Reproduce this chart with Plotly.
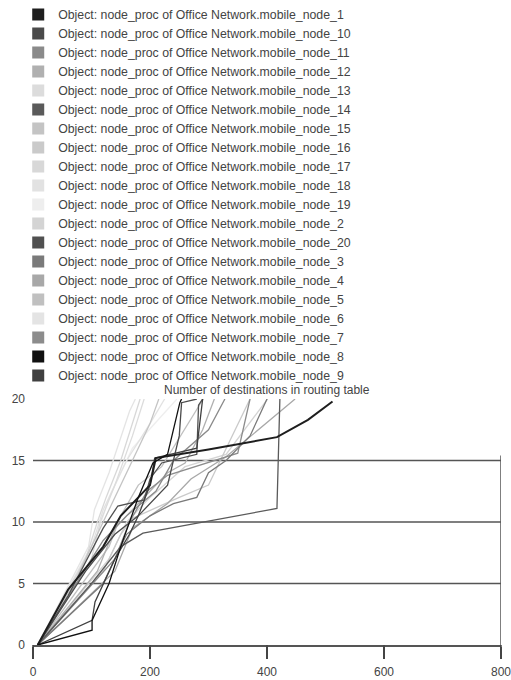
import plotly.graph_objects as go

# ---------------- data ----------------
legend_nodes = ["1", "10", "11", "12", "13", "14", "15", "16", "17", "18",
                "19", "2", "20", "3", "4", "5", "6", "7", "8", "9"]
legend_colors = ["#1e1e1e", "#4a4a4a", "#8a8a8a", "#b0b0b0", "#dcdcdc",
                 "#5a5a5a", "#c4c4c4", "#cacaca", "#d8d8d8", "#e2e2e2",
                 "#eeeeee", "#d4d4d4", "#505050", "#7a7a7a", "#a8a8a8",
                 "#c0c0c0", "#e4e4e4", "#8c8c8c", "#101010", "#404040"]

# time (s) and number of destinations in routing table for each node
t_1 = [8, 60, 120, 150, 200, 210, 300, 417, 470, 512]
v_1 = [0, 4.5, 8, 10.5, 13, 15.2, 15.9, 16.9, 18.3, 19.8]
t_10 = [8, 90, 140, 180, 230, 250, 254, 280]
v_10 = [0, 6, 9, 10.5, 13, 17, 19.7, 20]
t_11 = [8, 80, 120, 160, 210, 240, 300, 328]
v_11 = [0, 5.5, 8.5, 10.5, 12.5, 15, 17.5, 20]
t_12 = [8, 110, 140, 190, 230, 260, 290, 310]
v_12 = [0, 6, 9.5, 12, 14, 14.8, 17.5, 20]
t_13 = [8, 100, 115, 140, 170, 190]
v_13 = [0, 7, 10, 13, 17, 20]
t_14 = [8, 100, 150, 188, 417, 420, 422]
v_14 = [0, 5, 8, 9.1, 11.1, 17, 20]
t_15 = [8, 70, 110, 130, 160, 200, 215]
v_15 = [0, 5, 9, 11, 14, 18, 20]
t_16 = [8, 120, 150, 170, 250, 300, 371]
v_16 = [0, 6, 9, 10.3, 12, 13, 20]
t_17 = [8, 90, 110, 125, 150, 183]
v_17 = [0, 7, 10, 12, 15, 20]
t_18 = [8, 100, 120, 160, 200, 225]
v_18 = [0, 8, 11, 15, 18, 20]
t_19 = [8, 110, 130, 170, 246]
v_19 = [0, 9, 12, 16, 20]
t_2 = [8, 130, 160, 200, 260, 330, 401]
v_2 = [0, 7, 10, 12, 14.5, 15.5, 20]
t_20 = [8, 60, 120, 145, 190, 200, 220, 280, 283, 290]
v_20 = [0, 4, 9.5, 11.3, 11.8, 13.5, 14.8, 15.5, 19.5, 20]
t_3 = [8, 120, 160, 200, 240, 280, 300, 330, 371, 400]
v_3 = [0, 5, 9, 10.5, 11.5, 12, 14, 15, 17, 20]
t_4 = [8, 140, 170, 230, 270, 330, 448]
v_4 = [0, 6, 9.5, 11.5, 13.5, 15.3, 20]
t_5 = [8, 130, 150, 180, 220, 291]
v_5 = [0, 8, 10.5, 13, 14.5, 20]
t_6 = [8, 95, 105, 130, 165, 175]
v_6 = [0, 8, 11, 14, 19, 20]
t_7 = [8, 140, 165, 195, 230, 350, 371]
v_7 = [0, 7, 10, 12.5, 13.8, 15.6, 20]
t_8 = [8, 101, 101, 130, 150, 165, 180, 205, 230, 251, 254]
v_8 = [0, 1.2, 2.0, 5, 8, 10, 12, 14.8, 15.5, 19.7, 20]
t_9 = [8, 101, 106, 140, 165, 180, 200, 208, 280, 290]
v_9 = [0, 2.0, 3.5, 7, 9, 10.5, 13, 15.2, 16, 20]

series = {
    "1": (t_1, v_1), "10": (t_10, v_10), "11": (t_11, v_11), "12": (t_12, v_12),
    "13": (t_13, v_13), "14": (t_14, v_14), "15": (t_15, v_15), "16": (t_16, v_16),
    "17": (t_17, v_17), "18": (t_18, v_18), "19": (t_19, v_19), "2": (t_2, v_2),
    "20": (t_20, v_20), "3": (t_3, v_3), "4": (t_4, v_4), "5": (t_5, v_5),
    "6": (t_6, v_6), "7": (t_7, v_7), "8": (t_8, v_8), "9": (t_9, v_9),
}

x_ticks = [0, 200, 400, 600, 800]
y_ticks = [0, 5, 10, 15, 20]
grid_y = [5, 10, 15]
X_RANGE = [0, 800]
title_text = "Number of destinations in routing table"

FONT = "Liberation Sans, Arial, sans-serif"
fig = go.Figure()

# draw lighter lines first so darker ones sit on top
def lum(c):
    return int(c[1:3], 16)

order = sorted(range(len(legend_nodes)), key=lambda i: -lum(legend_colors[i]))
for i in order:
    node = legend_nodes[i]
    t, v = series[node]
    fig.add_trace(go.Scatter(
        x=t, y=v, mode="lines", showlegend=False,
        line=dict(color=legend_colors[i], width=2 if node == "1" else 1.3),
        legendgroup=node, hoverinfo="skip"))

# legend entries (square swatches)
for node, col in zip(legend_nodes, legend_colors):
    fig.add_trace(go.Scatter(
        x=[None], y=[None], mode="markers", legendgroup=node,
        name=f"Object: node_proc of Office Network.mobile_node_{node}",
        marker=dict(symbol="square", size=12, color=col,
                    line=dict(width=0))))

PLOT_H = 680 - 399 - 35
shapes = []
for g in grid_y:
    shapes.append(dict(type="line", xref="paper", yref="y", x0=0, x1=1,
                       y0=g, y1=g, line=dict(color="#555555", width=1.5),
                       layer="below"))
shapes.append(dict(type="line", xref="x", yref="y", x0=x_ticks[-1], x1=x_ticks[-1],
                   y0=0, y1=15.4, line=dict(color="#555555", width=1.5),
                   layer="below"))
# x-axis tick marks below the axis line (paper refs so they are not clipped)
for xt in x_ticks:
    fx = (xt - X_RANGE[0]) / (X_RANGE[1] - X_RANGE[0])
    shapes.append(dict(type="line", xref="paper", yref="paper", x0=fx, x1=fx,
                       y0=0, y1=-12 / PLOT_H, line=dict(color="#444444", width=1.5)))

fig.update_layout(
    width=511, height=680,
    margin=dict(l=33, r=10, t=399, b=35, autoexpand=False),
    paper_bgcolor="white", plot_bgcolor="white",
    font=dict(family=FONT, size=12, color="#333333"),
    showlegend=True,
    legend=dict(xref="container", yref="container", x=8 / 511 + 0.02,
                y=1 + 1 / 680,
                xanchor="left", yanchor="top", bgcolor="rgba(0,0,0,0)",
                font=dict(family=FONT, size=12.3, color="#444444"),
                itemclick=False, traceorder="normal", maxheight=400),
    xaxis=dict(range=X_RANGE, tickvals=x_ticks, ticks="outside", ticklen=12,
               tickwidth=1.5, tickcolor="#444444", showgrid=False,
               zeroline=False, showline=True, linecolor="#555555", linewidth=1.5,
               ticklabelstandoff=3, ticklabeloverflow="allow",
               tickfont=dict(size=12, color="#444444"), fixedrange=True),
    yaxis=dict(range=[0, 20], tickvals=y_ticks, ticks="", showgrid=False,
               zeroline=False, showline=False, ticklabelstandoff=7,
               tickfont=dict(size=12, color="#444444"), fixedrange=True),
    shapes=shapes,
    annotations=[dict(text=title_text, xref="paper", yref="paper", x=0.5, y=1,
                      xanchor="center", yanchor="bottom", yshift=0,
                      showarrow=False,
                      font=dict(family=FONT, size=12, color="#444444"))],
)

fig.write_html("out.html")
